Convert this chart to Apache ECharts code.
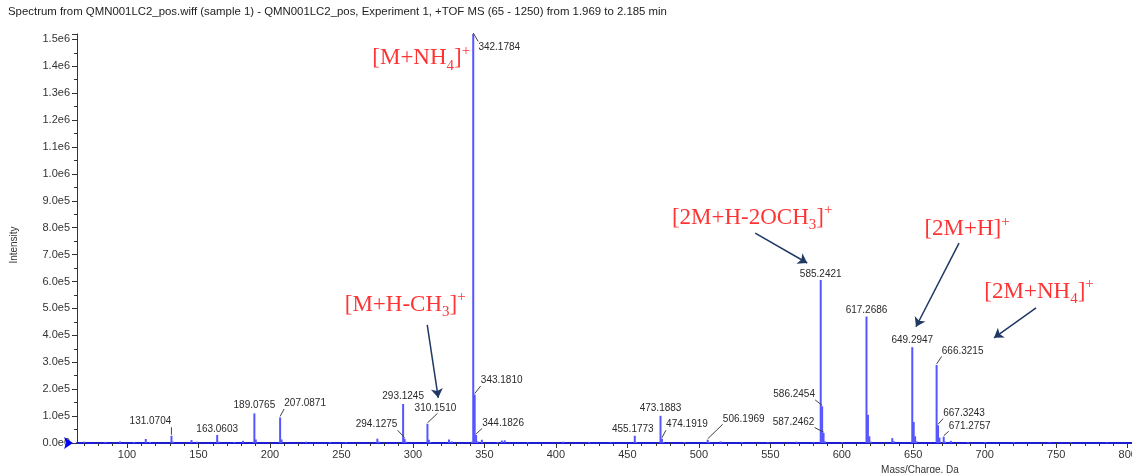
<!DOCTYPE html>
<html>
<head>
<meta charset="utf-8">
<script src="https://cdn.jsdelivr.net/npm/echarts@6.0.0/dist/echarts.min.js"></script>
<style>
   html, body { margin: 0; padding: 0; background: #ffffff; }
   #chart { width: 1132px; height: 473px; }
</style>
</head>
<body>
<div id="chart"></div>
<script>
// spectrum sticks (m/z, intensity)
var specMz = [70.07, 84.96, 95.0, 105.0, 113.1, 116.0, 131.0704, 132.07, 145.1, 149.0,
   163.0603, 164.06, 175.1, 181.1, 189.0765, 190.08, 207.0871, 208.09, 225.1, 242.1,
   253.1, 275.1, 276.1, 293.1245, 294.1275, 295.1, 310.1510, 311.15, 312.2, 325.2,
   327.1, 341.2, 342.1784, 343.1810, 344.1826, 345.2, 348.2, 359.2, 362.2, 364.2,
   380.2, 405.2, 423.2, 438.2, 455.1773, 456.2, 473.1883, 474.1919, 475.2, 490.2,
   506.1969, 507.2, 515.2, 530.2, 548.2, 568.3, 580.3, 585.2421, 586.2454, 587.2462,
   588.25, 600.3, 617.2686, 618.27, 619.27, 620.3, 635.3, 636.3, 649.2947, 650.3,
   651.3, 652.3, 666.3215, 667.3243, 668.33, 671.2757, 672.3, 676.3, 688.3, 700.3,
   720.3, 745.4, 760.4, 785.4];
var specInt = [5000, 4000, 6000, 4000, 15000, 4000, 27000, 5000, 11000, 5000,
   30000, 5000, 4000, 8000, 110000, 13000, 95000, 13000, 5000, 4000,
   3000, 16000, 5000, 145000, 16000, 5000, 71000, 12000, 4000, 13000,
   6000, 5000, 1520000, 180000, 30000, 6000, 12000, 4000, 9000, 10000,
   3000, 5000, 4000, 3000, 27000, 4000, 101000, 16000, 4000, 3000,
   12000, 4000, 6000, 3000, 3000, 5000, 3000, 606000, 136000, 37000,
   6000, 3000, 470000, 105000, 25000, 5000, 18000, 7000, 356000, 78000,
   25000, 6000, 290000, 66000, 20000, 23000, 5000, 8000, 4000, 3000,
   3000, 3000, 2500, 3000];

// labelled peaks
var peakLabels = ['131.0704', '163.0603', '189.0765', '207.0871', '293.1245', '294.1275',
   '310.1510', '342.1784', '343.1810', '344.1826', '455.1773', '473.1883', '474.1919',
   '506.1969', '585.2421', '586.2454', '587.2462', '617.2686', '649.2947', '666.3215',
   '667.3243', '671.2757'];

// ion annotations and their arrows (data coordinates)
var annoText = ['[M+NH{s|4}]{p|+}', '[M+H-CH{s|3}]{p|+}', '[2M+H-2OCH{s|3}]{p|+}', '[2M+H]{p|+}', '[2M+NH{s|4}]{p|+}'];
var annoMz = [305.8, 294.6, 537.3, 687.6, 738.0];
var annoInt = [1430000, 513000, 836000, 795000, 561000];
var arrowFromMz = [310.0, 539.4, 682.0, 735.9];
var arrowFromInt = [439000, 780000, 743000, 502000];
var arrowToMz = [317.7, 575.8, 651.9, 706.5];
var arrowToInt = [168000, 669000, 432000, 391000];

// axis ticks
var xLabelTicks = [100, 150, 200, 250, 300, 350, 400, 450, 500, 550, 600, 650, 700, 750, 800];
var xMinorTicks = [];
for (var t = 70; t <= 800; t += 10) { xMinorTicks.push(t); }

// label placement (pixel shift from "above the peak") and which get a leader line
var labelShift = {
   '131.0704': [-21, -6], '163.0603': [0, 2], '189.0765': [0, 0], '207.0871': [25, -6],
   '293.1245': [0, 0], '294.1275': [-28, -6], '310.1510': [8, -8], '342.1784': [26, 21],
   '343.1810': [27, -6], '344.1826': [27, -4], '455.1773': [-2, 2], '473.1883': [0, 0],
   '474.1919': [25, -6], '506.1969': [36, -13], '585.2421': [0, 2], '586.2454': [-28, -4],
   '587.2462': [-30, -3], '617.2686': [0, 2], '649.2947': [0, 1], '666.3215': [26, -6],
   '667.3243': [26, -4], '671.2757': [26, -3]
};
var withLeader = ['131.0704', '207.0871', '294.1275', '310.1510', '342.1784', '343.1810',
   '344.1826', '474.1919', '506.1969', '586.2454', '587.2462', '666.3215', '667.3243', '671.2757'];

var sans = 'Liberation Sans, Arial, sans-serif';
var serif = 'Liberation Serif, Times New Roman, serif';

function clamp(v, a, b) { return Math.max(a, Math.min(b, v)); }

var chart = echarts.init(document.getElementById('chart'), null, {renderer: 'canvas'});

var spec = [];
for (var i = 0; i < specMz.length; i++) {
   spec.push([specMz[i], specInt[i]]);
}

var labelData = [];
peakLabels.forEach(function (lbl) {
   var idx = specMz.indexOf(parseFloat(lbl));
   labelData.push([specMz[idx], specInt[idx]]);
});

var annoData = [];
for (var j = 0; j < annoText.length; j++) {
   annoData.push({name: annoText[j], value: [annoMz[j], annoInt[j]]});
}
var arrows = [];
for (var k = 0; k < arrowFromMz.length; k++) {
   arrows.push([{coord: [arrowFromMz[k], arrowFromInt[k]]}, {coord: [arrowToMz[k], arrowToInt[k]]}]);
}

// peak label text + leader line, placed from the peak top
function renderPeakLabel(params, api) {
   var name = peakLabels[params.dataIndex];
   var s = labelShift[name];
   var pt = api.coord([api.value(0), api.value(1)]);
   var cx = pt[0] + s[0], cy = pt[1] - 8 + s[1];
   var w = 42, h = 11;
   var children = [{
      type: 'text',
      x: cx, y: cy,
      style: {text: name, fill: '#2a2a2a', font: '10px ' + sans, align: 'center', verticalAlign: 'middle'}
   }];
   if (withLeader.indexOf(name) >= 0) {
      var ex = clamp(pt[0], cx - w / 2, cx + w / 2);
      var ey = clamp(pt[1], cy - h / 2, cy + h / 2);
      // peak sits under the left part of the label: lean the leader to the right
      if (cx > pt[0] && pt[0] > cx - w / 2) { ex = pt[0] + 10; }
      children.push({
         type: 'line',
         shape: {x1: pt[0], y1: pt[1] - 1, x2: ex, y2: ey},
         style: {stroke: '#444', lineWidth: 1}
      });
   }
   return {type: 'group', children: children};
}

var option = {
   animation: false,
   backgroundColor: '#ffffff',
   title: {
      text: 'Spectrum from QMN001LC2_pos.wiff (sample 1) - QMN001LC2_pos, Experiment 1, +TOF MS (65 - 1250) from 1.969 to 2.185 min',
      left: 8, top: 6, padding: 0,
      textStyle: {fontSize: 11.4, fontWeight: 'normal', fontFamily: sans, color: '#222'}
   },
   grid: {left: 77, right: 0, top: 34, bottom: 30, containLabel: false, outerBoundsMode: 'none'},
   xAxis: [{
      type: 'value', min: 65, max: 803,
      name: 'Mass/Charge, Da', nameLocation: 'middle', nameGap: 13,
      nameTextStyle: {fontSize: 10, fontFamily: sans, color: '#333', padding: [0, 0, 0, 631]},
      axisLine: {show: true, onZero: false, lineStyle: {color: '#1c1cd0', width: 2}},
      axisTick: {show: true, length: 5, lineStyle: {color: '#333'}, customValues: xLabelTicks},
      axisLabel: {fontSize: 11, fontFamily: sans, color: '#333', margin: 6, customValues: xLabelTicks},
      splitLine: {show: false}
   }, {
      type: 'value', min: 65, max: 803, position: 'bottom',
      axisLine: {show: false},
      axisTick: {show: true, length: 3, lineStyle: {color: '#333'}, customValues: xMinorTicks},
      axisLabel: {show: false},
      splitLine: {show: false}
   }],
   yAxis: {
      type: 'value', min: 0, max: 1520000, interval: 100000,
      name: 'Intensity', nameLocation: 'middle', nameGap: 58,
      nameTextStyle: {fontSize: 10, fontFamily: sans, color: '#333', padding: [0, 13, 0, 0]},
      axisLine: {show: true, lineStyle: {color: '#333', width: 1}},
      axisTick: {show: true, length: 5, lineStyle: {color: '#333'}},
      minorTick: {show: true, splitNumber: 2, length: 3, lineStyle: {color: '#333'}},
      axisLabel: {
         fontSize: 11, fontFamily: sans, color: '#333', margin: 7, showMaxLabel: false,
         formatter: function (v) { return v.toExponential(1).replace('e+', 'e'); }
      },
      splitLine: {show: false}
   },
   series: [{
      name: 'spectrum',
      type: 'bar',
      data: spec,
      barWidth: 2,
      itemStyle: {color: '#5656ff'},
      silent: true,
      markPoint: {
         symbol: 'arrow', symbolSize: [9, 9], symbolRotate: -90, symbolOffset: [-4, 0],
         itemStyle: {color: '#0000ff'}, label: {show: false},
         data: [{coord: [65, 0]}]
      }
   }, {
      name: 'peak labels',
      type: 'custom',
      data: labelData,
      renderItem: renderPeakLabel,
      clip: false,
      silent: true,
      z: 5
   }, {
      name: 'ions',
      type: 'scatter',
      data: annoData,
      symbolSize: 0,
      silent: true,
      z: 6,
      label: {
         show: true, position: 'inside', formatter: '{b}',
         fontSize: 23, fontFamily: serif, color: '#ff0000', lineHeight: 30,
         rich: {
            s: {fontSize: 15, fontFamily: serif, color: '#ff0000', verticalAlign: 'bottom'},
            p: {fontSize: 15, fontFamily: serif, color: '#ff0000', verticalAlign: 'top'}
         }
      },
      markLine: {
         silent: true,
         symbol: ['none', 'arrow'], symbolSize: 9,
         label: {show: false},
         lineStyle: {color: '#1f3864', width: 1.5, type: 'solid'},
         data: arrows
      }
   }]
};
chart.setOption(option);
</script>
</body>
</html>
